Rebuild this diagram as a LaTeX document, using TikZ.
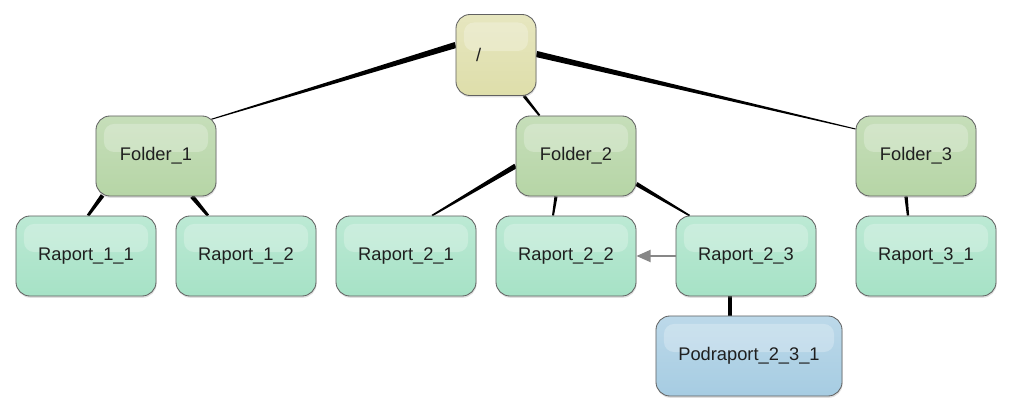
\documentclass[tikz,border=0pt]{standalone}
\usepackage{fontspec}
\setmainfont{Liberation Sans}
\usetikzlibrary{arrows.meta,calc,shadows,backgrounds}

% tapered link: from, to, half width at parent end, half width at child end
\newcommand{\taperlink}[4]{%
  \coordinate (ta) at (#1);
  \coordinate (tb) at (#2);
  \fill[linkfill] ($(ta)!#3!90:(tb)$) -- ($(ta)!#3!-90:(tb)$)
    -- ($(tb)!#4!90:(ta)$) -- ($(tb)!#4!-90:(ta)$) -- cycle;}

\definecolor{rootcol}{HTML}{DEDEAA}
\definecolor{foldcol}{HTML}{B6D5A6}
\definecolor{repcol}{HTML}{A6E2C6}
\definecolor{subcol}{HTML}{A6CCE2}

\begin{document}
\begin{tikzpicture}[x=0.025cm,y=-0.025cm,>=Stealth]
\tikzset{
  tile/.style={rounded corners=0.35cm, draw=black!62, line width=0.6pt,
    minimum height=2cm, font=\fontsize{13}{15}\selectfont, text=black!88,
    drop shadow={opacity=0.25,shadow xshift=0.4pt,shadow yshift=-1.3pt},
    path picture={\fill[white,opacity=0.25,rounded corners=0.25cm]
      ($(path picture bounding box.north west)+(0.2cm,-0.2cm)$) rectangle
      ($(path picture bounding box.east)+(-0.2cm,0.1cm)$);}},
  rootbox/.style={tile, minimum width=2cm, minimum height=2.025cm,
    top color=rootcol!75!white, bottom color=rootcol},
  folderbox/.style={tile, minimum width=3cm,
    top color=foldcol!78!white, bottom color=foldcol},
  raportbox/.style={tile, minimum width=3.5cm,
    top color=repcol!75!white, bottom color=repcol},
  subbox/.style={tile, minimum width=4.65cm,
    top color=subcol!75!white, bottom color=subcol},
  linkfill/.style={fill=black},
  refarrow/.style={draw=black!47, line width=1.4pt, -{Triangle[length=10pt,width=8.5pt]}}
}
\useasboundingbox (0,0) rectangle (1020,420);
% ---------- nodes ----------
\node[rootbox]   (root) at (496,55)  {\makebox[1cm][l]{/}};
\node[folderbox] (f1)   at (156,156) {Folder\_1};
\node[folderbox] (f2)   at (576,156) {Folder\_2};
\node[folderbox] (f3)   at (916,156) {Folder\_3};
\node[raportbox] (r11)  at (86,256)  {Raport\_1\_1};
\node[raportbox] (r12)  at (246,256) {Raport\_1\_2};
\node[raportbox] (r21)  at (406,256) {Raport\_2\_1};
\node[raportbox] (r22)  at (566,256) {Raport\_2\_2};
\node[raportbox] (r23)  at (746,256) {Raport\_2\_3};
\node[raportbox] (r31)  at (926,256) {Raport\_3\_1};
\node[subbox]    (p231) at (749,356) {Podraport\_2\_3\_1};
% ---------- tree links, thick at the parent ----------
\begin{scope}[on background layer]
  \taperlink{$(root.west)+(0,-10)$}{$(f1.north east)+(-6,4)$}{2.2pt}{0.35pt}
  \taperlink{$(root.south)+(28,0)$}{$(f2.north west)+(24,0)$}{1.1pt}{0.7pt}
  \taperlink{$(root.east)+(0,-1)$}{$(f3.west)+(0,-27)$}{2.2pt}{0.35pt}
  \taperlink{$(f1.south west)+(7,-1)$}{$(r11.north)+(2,0)$}{1.5pt}{1pt}
  \taperlink{$(f1.south)+(36,0)$}{$(r12.north)+(-38,0)$}{1.6pt}{1pt}
  \taperlink{$(f2.west)+(0,10)$}{$(r21.north)+(26,0)$}{1.8pt}{0.6pt}
  \taperlink{$(f2.south)+(-20,0)$}{$(r22.north)+(-13,0)$}{1.1pt}{0.7pt}
  \taperlink{$(f2.east)+(0,28)$}{$(r23.north west)+(14,0)$}{1.5pt}{0.6pt}
  \taperlink{$(f3.south)+(-10,0)$}{$(r31.north)+(-18,0)$}{1.2pt}{0.8pt}
  \taperlink{$(r23.south)+(-16,0)$}{$(p231.north)+(-19,0)$}{1.1pt}{1.1pt}
\end{scope}
% ---------- cross reference ----------
\draw[refarrow] (r23.west) -- (r22.east);
\end{tikzpicture}
\end{document}
